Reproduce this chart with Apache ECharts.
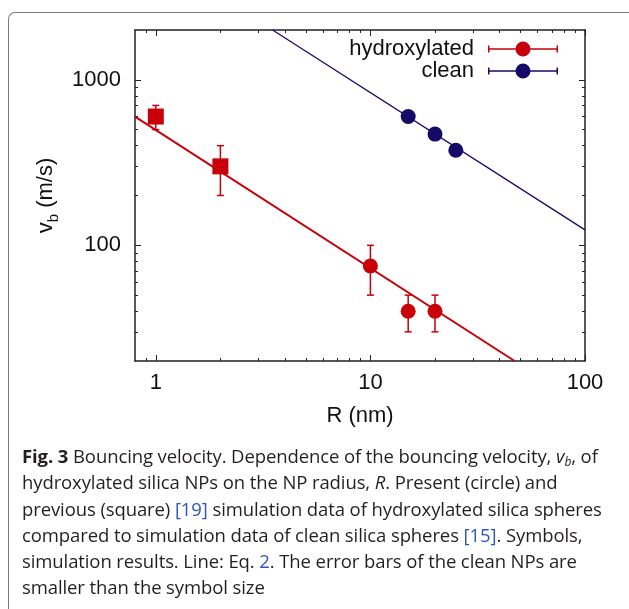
<!DOCTYPE html>
<html>
<head>
<meta charset="utf-8">
<script src="https://cdn.jsdelivr.net/npm/echarts@6/dist/echarts.min.js"></script>
<style>
  html, body { margin: 0; padding: 0; background: #fff; }
  #frame {
    position: absolute; left: 8px; top: 12px; width: 640px; height: 620px;
    border-left: 1.5px solid #7a7a7a; border-top: 1.5px solid #7a7a7a;
    border-top-left-radius: 7px;
  }
  #main { position: absolute; left: 0; top: 0; width: 629px; height: 609px; }
  #caption {
    position: absolute; left: 22px; top: 443px; width: 605px;
    font-family: "Open Sans", "Noto Sans", sans-serif; font-size: 18.5px;
    letter-spacing: -0.1px; line-height: 26.3px; color: #231f20; white-space: nowrap;
  }
  #caption sub { font-size: 12px; line-height: 0; vertical-align: -3px; }
  #caption .ref { color: #2a56c6; }
</style>
</head>
<body>
<div id="frame"></div>
<div id="main"></div>
<div id="caption">
  <b>Fig. 3</b> Bouncing velocity. Dependence of the bouncing velocity, <i>v<sub>b</sub></i>, of<br>
  hydroxylated silica NPs on the NP radius, <i>R</i>. Present (circle) and<br>
  previous (square) <span class="ref">[19]</span> simulation data of hydroxylated silica spheres<br>
  compared to simulation data of clean silica spheres <span class="ref">[15]</span>. Symbols,<br>
  simulation results. Line: Eq. <span class="ref">2</span>. The error bars of the clean NPs are<br>
  smaller than the symbol size
</div>
<script>
const RED = "#c8000a";
const NAVY = "#160a66";
const FONT = "'Liberation Sans', Arial, sans-serif";

// hydroxylated, present (circles): [R, v]
const hydroxPresent = [[10, 75], [15, 40], [20, 40]];
// hydroxylated, previous (squares)
const hydroxPrevious = [[1, 600], [2, 300]];
// error bars: [R, low, high]
const hydroxErrors = [[1, 500, 700], [2, 200, 400], [10, 50, 100], [15, 30, 50], [20, 30, 50]];
// clean
const clean = [[15, 600], [20, 470], [25, 375]];
// fitted lines (Eq. 2), end points
const hydroxLine = [[0.8, 600], [47, 20]];
const cleanLine = [[3.5, 2000], [100, 124]];

const xMajor = [1, 10, 100];
const xMinor = [0.9, 2, 3, 4, 5, 6, 7, 8, 9, 20, 30, 40, 50, 60, 70, 80, 90];
const yMajor = [100, 1000];
const yMinor = [30, 40, 50, 60, 70, 80, 90, 200, 300, 400, 500, 600, 700, 800, 900];

const legendIcon = "path://M0 6.75H70V8.25H0Z M0 4H1.5V11H0Z M68.5 4H70V11H68.5Z " +
  "M27.5 7.5A7.5 7.5 0 1 1 42.5 7.5A7.5 7.5 0 1 1 27.5 7.5Z";

function plain(v) {
  return String(Math.round(v));
}

function xAxis(position, ticks, len, major) {
  return {
    type: "log", logBase: 10, min: 0.8, max: 100, position: position,
    axisLine: { show: major, lineStyle: { color: "#222", width: 1.5 } },
    axisTick: { show: true, inside: true, length: len, customValues: ticks,
      lineStyle: { color: "#222", width: 1 } },
    axisLabel: position === "bottom" && major ? {
      show: true, customValues: xMajor, margin: 11, color: "#111",
      fontSize: 22, fontFamily: FONT, formatter: plain
    } : { show: false },
    splitLine: { show: false },
    name: position === "bottom" && major ? "R (nm)" : "",
    nameLocation: "middle", nameGap: 44,
    nameTextStyle: { fontSize: 22, fontFamily: FONT, color: "#111" }
  };
}

function yAxis(position, ticks, len, major) {
  return {
    type: "log", logBase: 10, min: 20, max: 2000, position: position,
    axisLine: { show: major, lineStyle: { color: "#222", width: 1.5 } },
    axisTick: { show: true, inside: true, length: len, customValues: ticks,
      lineStyle: { color: "#222", width: 1 } },
    axisLabel: position === "left" && major ? {
      show: true, customValues: yMajor, margin: 14, color: "#111",
      fontSize: 22, fontFamily: FONT, formatter: plain
    } : { show: false },
    splitLine: { show: false },
    name: position === "left" && major ? "{v|v}{s|b}{v| (m/s)}" : "",
    nameLocation: "middle", nameGap: 67,
    nameTextStyle: {
      fontFamily: FONT, color: "#111",
      rich: {
        v: { fontSize: 22, fontFamily: FONT, color: "#111", verticalAlign: "top", lineHeight: 26 },
        s: { fontSize: 15, fontFamily: FONT, color: "#111", verticalAlign: "bottom", lineHeight: 26 }
      }
    }
  };
}

function errorBars(params, api) {
  const x = api.value(0);
  const lo = api.coord([x, api.value(1)]);
  const hi = api.coord([x, api.value(2)]);
  const w = 3.5;
  const style = { stroke: RED, lineWidth: 1.5 };
  return {
    type: "group",
    children: [
      { type: "line", shape: { x1: hi[0], y1: hi[1], x2: lo[0], y2: lo[1] }, style: style },
      { type: "line", shape: { x1: hi[0] - w, y1: hi[1], x2: hi[0] + w, y2: hi[1] }, style: style },
      { type: "line", shape: { x1: lo[0] - w, y1: lo[1], x2: lo[0] + w, y2: lo[1] }, style: style }
    ]
  };
}

const chart = echarts.init(document.getElementById("main"));
chart.setOption({
  animation: false,
  grid: { left: 135, top: 30, right: 44, bottom: 248 },
  xAxis: [
    xAxis("bottom", xMajor, 6, true),
    xAxis("bottom", xMinor, 3, false),
    xAxis("top", xMajor, 6, true),
    xAxis("top", xMinor, 3, false)
  ],
  yAxis: [
    yAxis("left", yMajor, 6, true),
    yAxis("left", yMinor, 3, false),
    yAxis("right", yMajor, 6, true),
    yAxis("right", yMinor, 3, false)
  ],
  legend: {
    orient: "vertical", align: "right", right: 66, top: 33, itemGap: 0,
    itemWidth: 70, itemHeight: 15,
    textStyle: { fontSize: 22, fontFamily: FONT, color: "#111", lineHeight: 22, padding: [0, 9, 0, 0] },
    data: [
      { name: "hydroxylated", icon: legendIcon, itemStyle: { color: RED } },
      { name: "clean", icon: legendIcon, itemStyle: { color: NAVY } }
    ]
  },
  series: [
    {
      name: "hydroxylated fit", type: "line", data: hydroxLine, showSymbol: false,
      lineStyle: { color: RED, width: 2 }, clip: true, z: 1
    },
    {
      name: "clean fit", type: "line", data: cleanLine, showSymbol: false,
      lineStyle: { color: NAVY, width: 1.3 }, clip: true, z: 1
    },
    {
      name: "hydroxylated errors", type: "custom", renderItem: errorBars,
      data: hydroxErrors, encode: { x: 0, y: [1, 2] }, z: 2
    },
    {
      name: "hydroxylated previous", type: "scatter", data: hydroxPrevious,
      symbol: "rect", symbolSize: 16, itemStyle: { color: RED, opacity: 1 }, z: 3
    },
    {
      name: "hydroxylated", type: "scatter", data: hydroxPresent,
      symbol: "circle", symbolSize: 15, itemStyle: { color: RED, opacity: 1 }, z: 3
    },
    {
      name: "clean", type: "scatter", data: clean,
      symbol: "circle", symbolSize: 15, itemStyle: { color: NAVY, opacity: 1 }, z: 3
    }
  ]
});
</script>
</body>
</html>
